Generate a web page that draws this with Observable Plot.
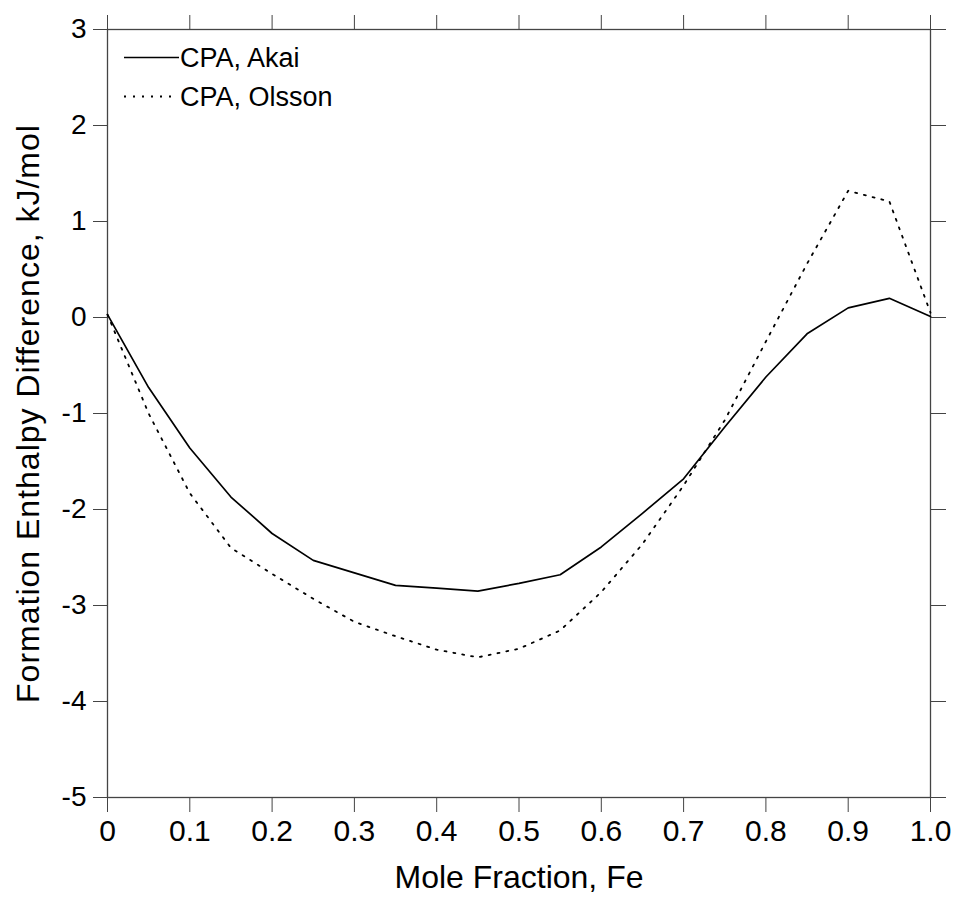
<!DOCTYPE html>
<html><head><meta charset="utf-8">
<script src="https://cdn.jsdelivr.net/npm/d3@7"></script>
<script src="https://cdn.jsdelivr.net/npm/@observablehq/plot@0.6"></script>
<style>
body{margin:0;background:#fff}
#chart svg{font-family:"Liberation Sans",Arial,Helvetica,sans-serif;background:#fff}
</style>
</head><body><div id="chart"></div>
<script>
// ---- data ----
const moleFraction = [0,0.05,0.1,0.15,0.2,0.25,0.3,0.35,0.4,0.45,0.5,0.55,0.6,0.65,0.7,0.75,0.8,0.85,0.9,0.95,1.0];
const akai   = [0.03,-0.73,-1.36,-1.87,-2.25,-2.53,-2.66,-2.79,-2.82,-2.85,-2.77,-2.68,-2.39,-2.04,-1.68,-1.14,-0.62,-0.17,0.10,0.20,0.01];
const olsson = [0.03,-1.00,-1.83,-2.40,-2.67,-2.93,-3.17,-3.32,-3.46,-3.54,-3.45,-3.26,-2.86,-2.36,-1.75,-1.07,-0.25,0.56,1.32,1.21,0.05];
const seriesNames = ["CPA, Akai","CPA, Olsson"];
const xTicks = [0,0.1,0.2,0.3,0.4,0.5,0.6,0.7,0.8,0.9,1.0];
const xTickLabels = ["0","0.1","0.2","0.3","0.4","0.5","0.6","0.7","0.8","0.9","1.0"];
const yTicks = [-5,-4,-3,-2,-1,0,1,2,3];
const yTickLabels = ["-5","-4","-3","-2","-1","0","1","2","3"];
const xLabel = "Mole Fraction, Fe";
const yLabel = "Formation Enthalpy Difference, kJ/mol";

// ---- build ----
const rows = moleFraction.flatMap((x,i)=>[
  {x, y: akai[i], s: seriesNames[0]},
  {x, y: olsson[i], s: seriesNames[1]}
]);
const xFmt = d => xTickLabels[xTicks.findIndex(t => Math.abs(t-d) < 1e-9)];
const yFmt = d => yTickLabels[yTicks.indexOf(d)];
const axisColor = "#444";

const plot = Plot.plot({
  width: 956, height: 898,
  marginLeft: 107, marginRight: 26, marginTop: 29, marginBottom: 101,
  style: {fontFamily: '"Liberation Sans",Arial,sans-serif', color: "black", background: "white"},
  x: {domain: [0, 1]},
  y: {domain: [-5, 3]},
  marks: [
    Plot.axisX(xTicks, {anchor: "bottom", tickSize: 15, tickPadding: 7, tickFormat: xFmt, fontSize: 30, label: null, stroke: axisColor, fill: "black"}),
    Plot.axisX(xTicks, {anchor: "top", tickSize: 15, tickFormat: () => "", label: null, stroke: axisColor}),
    Plot.axisY(yTicks, {anchor: "left", tickSize: 14, tickPadding: 7, tickFormat: yFmt, fontSize: 28, label: null, stroke: axisColor, fill: "black"}),
    Plot.axisY(yTicks, {anchor: "right", tickSize: 15, tickFormat: () => "", label: null, stroke: axisColor}),
    Plot.frame({stroke: axisColor, strokeWidth: 1.3}),
    Plot.line(rows, {filter: d => d.s === seriesNames[0], x: "x", y: "y", stroke: "black", strokeWidth: 1.7}),
    Plot.line(rows, {filter: d => d.s === seriesNames[1], x: "x", y: "y", stroke: "black", strokeWidth: 1.8, strokeDasharray: "2,7"}),
    Plot.text([xLabel], {text: d => d, frameAnchor: "bottom", dy: 80, lineAnchor: "middle", textAnchor: "middle", fontSize: 32, fill: "black"}),
    Plot.text([yLabel], {text: d => d, frameAnchor: "left", dx: -79, rotate: -90, lineAnchor: "middle", textAnchor: "middle", fontSize: 32, fill: "black"})
  ]
});

const svg = d3.select(plot);
// enforce tick label sizes
svg.selectAll('g[aria-label="x-axis tick label"]').attr("font-size", 30).selectAll("text").attr("font-size", 30);
svg.selectAll('g[aria-label="y-axis tick label"]').attr("font-size", 28).selectAll("text").attr("font-size", 28);
svg.selectAll("text").filter(function(){ return this.textContent === yLabel; }).style("letter-spacing", "1px");

// legend inside the frame (top-left)
const legend = svg.append("g").attr("font-size", 27).attr("fill", "black").attr("text-anchor", "start");
const legendStyles = [{dash: null, x2: 179}, {dash: "2,7", x2: 173}];
seriesNames.forEach((name, i) => {
  const cy = 57.5 + i * 39;
  legend.append("line")
    .attr("x1", 124).attr("x2", legendStyles[i].x2)
    .attr("y1", cy).attr("y2", cy)
    .attr("stroke", "black").attr("stroke-width", i ? 1.8 : 1.5)
    .attr("stroke-dasharray", legendStyles[i].dash);
  legend.append("text").attr("x", 180).attr("y", cy).attr("dy", "0.35em").attr("text-anchor", "start").text(name);
});

document.getElementById("chart").appendChild(plot);
</script>
</body></html>
